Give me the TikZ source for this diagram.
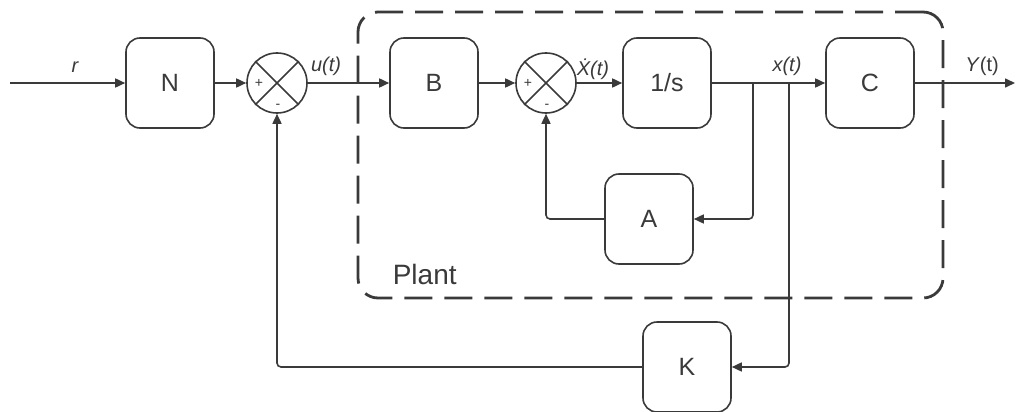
\documentclass[tikz,border=0pt]{standalone}
\usepackage{fontspec}
\setmainfont{Liberation Sans}
\usetikzlibrary{arrows.meta}
\definecolor{ink}{HTML}{3A3A3A}
\begin{document}
\begin{tikzpicture}[x=1pt,y=-1pt,line width=1.6pt,
  blk/.style={draw=ink,rounded corners=14pt,minimum width=88pt,minimum height=90pt,inner sep=0pt,text=ink,font=\fontsize{25}{29}\selectfont},
  sumj/.style={circle,draw=ink,minimum size=60pt,inner sep=0pt},
  sgn/.style={text=ink,inner sep=0pt,font=\fontsize{14}{16}\selectfont},
  arr/.style={draw=ink,-{Triangle[length=10pt,width=9pt]}},
  wire/.style={draw=ink},
  lbl/.style={text=ink,inner sep=0pt,anchor=base,font=\fontsize{20}{24}\selectfont}]
\useasboundingbox (0,0) rectangle (1020,412);
% plant box
\node[draw=ink,line width=2.8pt,dash pattern=on 28pt off 12pt,rounded corners=20pt,minimum width=585pt,minimum height=286pt,inner sep=0pt] (plant) at (650.5,155) {};
\node[text=ink,inner sep=0pt,anchor=base west,font=\fontsize{28}{32}\selectfont] (plantlbl) at (392,284) {Plant};
% blocks
\node[blk] (N) at (170,83) {N};
\node[sumj] (s1) at (277,83) {};
\node[blk] (B) at (434,83) {B};
\node[sumj] (s2) at (546,83) {};
\node[blk] (I) at (667,83) {1/s};
\node[blk] (C) at (870,83) {C};
\node[blk] (A) at (649,219) {A};
\node[blk] (K) at (687,367) {K};
% sum junction marks
\draw[wire] (s1.45) -- (s1.225) (s1.135) -- (s1.315);
\draw[wire] (s2.45) -- (s2.225) (s2.135) -- (s2.315);
\node[sgn] (p1) at (259,83) {+};
\node[sgn] (m1) at (278,106) {-};
\node[sgn] (p2) at (528,83) {+};
\node[sgn] (m2) at (547,106) {-};
% coordinates
\coordinate (in) at (10,83);
\coordinate (out) at (1015,83);
\coordinate (b1) at (753,83);
\coordinate (b2) at (789,83);
% connectors
\draw[arr] (in) -- (N);
\draw[arr] (N) -- (s1);
\draw[arr] (s1) -- (B);
\draw[arr] (B) -- (s2);
\draw[arr] (s2) -- (I);
\draw[arr] (I) -- (C);
\draw[arr] (C) -- (out);
\draw[arr,rounded corners=4pt] (b1) |- (A.east);
\draw[arr,rounded corners=4pt] (A.west) -| (s2.south);
\draw[arr,rounded corners=4pt] (b2) |- (K.east);
\draw[arr,rounded corners=4pt] (K.west) -| (s1.south);
% labels
\node[lbl] (lr) at (75,73) {\itshape r};
\node[lbl] (lu) at (326,72) {\itshape u(t)};
\node[lbl] (lx1) at (593,75) {\itshape \.{X}(t)};
\node[lbl] (lx) at (787,72) {\itshape x(t)};
\node[lbl] (ly) at (982,72) {\textit{Y}(t)};
\end{tikzpicture}
\end{document}
